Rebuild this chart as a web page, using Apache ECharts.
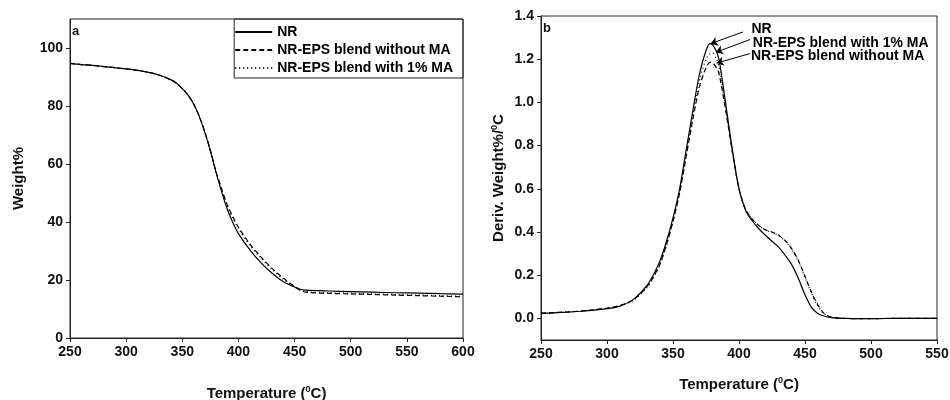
<!DOCTYPE html>
<html>
<head>
<meta charset="utf-8">
<script src="https://cdn.jsdelivr.net/npm/echarts@6/dist/echarts.min.js"></script>
<style>
  html, body { margin: 0; padding: 0; background: #fff; }
  #chart { width: 950px; height: 400px; }
</style>
</head>
<body>
<div id="chart"></div>
<script>
// ---- data ----
const seriesNames = ['NR', 'NR-EPS blend without MA', 'NR-EPS blend with 1% MA']

// (a) TGA: weight % vs temperature
const tgaTemp = [250, 260, 270, 280, 290, 300, 310, 320, 330, 340, 345, 350, 355, 360, 365, 370, 375, 380,
  385, 390, 395, 400, 410, 420, 430, 440, 450, 455, 460, 480, 500, 520, 540, 560, 580, 600]
const tgaNR = [94.7, 94.3, 94.0, 93.6, 93.2, 92.8, 92.3, 91.6, 90.6, 89.0, 87.8, 86.0, 83.8, 80.8, 76.5, 71.0, 64.5, 57.2,
  50.5, 44.5, 39.8, 36.0, 30.5, 26.0, 22.3, 19.4, 17.6, 16.8, 16.5, 16.2, 16.0, 15.8, 15.6, 15.5, 15.3, 15.1]
const tgaNoMA = [94.7, 94.3, 94.0, 93.6, 93.2, 92.8, 92.3, 91.6, 90.6, 89.0, 87.8, 86.0, 83.8, 80.8, 76.6, 71.2, 64.8, 57.5,
  51.5, 46.0, 41.8, 38.2, 32.5, 28.0, 24.0, 20.6, 17.8, 16.5, 15.8, 15.4, 15.2, 15.0, 14.8, 14.6, 14.4, 14.2]
const tgaMA = [94.7, 94.3, 94.0, 93.6, 93.2, 92.8, 92.3, 91.6, 90.6, 89.0, 87.8, 86.0, 83.8, 80.8, 76.6, 71.1, 64.7, 57.4,
  51.2, 45.6, 41.3, 37.8, 32.0, 27.6, 23.6, 20.3, 17.6, 16.6, 16.0, 15.6, 15.4, 15.2, 15.0, 14.8, 14.6, 14.4]

// (b) DTG: derivative weight %/°C vs temperature
const dtgTemp = [250, 260, 270, 280, 290, 300, 310, 320, 330, 335, 340, 345, 350, 355, 360, 365, 370, 375, 378, 380,
  383, 385, 390, 395, 400, 405, 410, 415, 420, 425, 430, 435, 440, 445, 450, 455, 460, 465, 470, 475,
  480, 490, 500, 520, 550]
const dtgNR = [0.023, 0.026, 0.029, 0.033, 0.038, 0.045, 0.057, 0.088, 0.15, 0.2, 0.265, 0.355, 0.465, 0.6, 0.78, 0.96, 1.13, 1.24, 1.272, 1.266,
  1.235, 1.195, 0.99, 0.78, 0.6, 0.5, 0.452, 0.415, 0.385, 0.357, 0.33, 0.292, 0.248, 0.185, 0.11, 0.05, 0.022, 0.01, 0.004, 0.001,
  0, -0.001, -0.001, 0, 0]
const dtgNoMA = [0.024, 0.027, 0.03, 0.034, 0.04, 0.048, 0.06, 0.086, 0.145, 0.19, 0.25, 0.34, 0.45, 0.58, 0.75, 0.92, 1.07, 1.16, 1.185, 1.183,
  1.16, 1.13, 0.96, 0.77, 0.6, 0.505, 0.46, 0.43, 0.41, 0.4, 0.385, 0.36, 0.322, 0.268, 0.195, 0.12, 0.06, 0.02, 0.006, 0.002,
  0, -0.001, -0.001, 0, 0]
const dtgMA = [0.023, 0.026, 0.03, 0.034, 0.039, 0.046, 0.058, 0.084, 0.14, 0.185, 0.245, 0.335, 0.45, 0.585, 0.76, 0.94, 1.1, 1.2, 1.225, 1.228,
  1.2, 1.16, 0.97, 0.77, 0.6, 0.505, 0.46, 0.43, 0.41, 0.398, 0.383, 0.358, 0.32, 0.265, 0.19, 0.115, 0.055, 0.018, 0.005, 0.001,
  0, -0.001, -0.001, 0, 0]

// peak annotations in panel b: label anchor -> arrow tip
const annoLabels = ['NR', 'NR-EPS blend with 1% MA', 'NR-EPS blend without MA']
const annoFrom = [[403.0, 1.326], [408.3, 1.291], [408.3, 1.226]]
const annoTo = [[378.5, 1.272], [382.5, 1.232], [383.0, 1.182]]

// ---- chart ----
const FONT = "'Liberation Sans', Arial, sans-serif"
const INK = '#111'
const frame = { color: '#222', width: 1 }
const dashTypes = ['solid', [5, 3], [1, 3]]

const pairs = (xs, ys) => xs.map((x, i) => [x, ys[i]])

const nameRich = {
  t: { fontSize: 15, fontWeight: 'bold', fontFamily: FONT, color: INK, lineHeight: 18 },
  s: { fontSize: 9, fontWeight: 'bold', fontFamily: FONT, color: INK, verticalAlign: 'top', lineHeight: 10 }
}
const tickLabel = { color: INK, fontSize: 14, fontWeight: 'bold', fontFamily: FONT, margin: 7 }

function xAxis(gridIndex, max, nameGap) {
  return {
    type: 'value', gridIndex, min: 250, max, interval: 50,
    name: '{t|Temperature (}{s|0}{t|C)}', nameLocation: 'middle', nameGap,
    nameTextStyle: { rich: nameRich },
    axisLine: { show: true, onZero: false, lineStyle: frame },
    axisTick: { show: true, length: 4, lineStyle: frame },
    axisLabel: tickLabel,
    splitLine: { show: false }
  }
}

function line(name, xIdx, xs, ys, k) {
  return {
    name, type: 'line', xAxisIndex: xIdx, yAxisIndex: xIdx,
    data: pairs(xs, ys), symbol: 'none', smooth: 0.3,
    lineStyle: { color: '#000', width: 1.2, type: dashTypes[k] },
    itemStyle: { color: '#000' },
    emphasis: { disabled: true }
  }
}

const chart = echarts.init(document.getElementById('chart'), null, { renderer: 'canvas' })

// label offsets along/against the arrow direction
const annoLabelPos = [
  { distance: [9, 8] },
  { distance: [3, -9] },
  { distance: [1, -9] }
]

const dtgSeries = [dtgNR, dtgNoMA, dtgMA].map((ys, k) => line(seriesNames[k], 1, dtgTemp, ys, k))
dtgSeries[0].markLine = {
  silent: true, animation: false,
  symbol: ['none', 'arrow'], symbolSize: 7,
  lineStyle: { color: '#000', width: 1, type: 'solid' },
  label: {
    show: true, position: 'start', formatter: '{b}',
    color: '#000', fontSize: 14, fontWeight: 'bold', fontFamily: FONT
  },
  emphasis: { disabled: true },
  data: annoLabels.map((name, i) => [
    { name, coord: annoFrom[i], label: annoLabelPos[i] },
    { coord: annoTo[i] }
  ])
}

chart.setOption({
  animation: false,
  backgroundColor: '#fff',
  title: [
    { text: 'a', left: 72, top: 25, padding: 0, textStyle: { fontSize: 13, fontWeight: 'bold', fontFamily: FONT, color: INK } },
    { text: 'b', left: 543, top: 22, padding: 0, textStyle: { fontSize: 13, fontWeight: 'bold', fontFamily: FONT, color: INK } }
  ],
  legend: {
    data: seriesNames, orient: 'vertical', right: 487, top: 19,
    itemWidth: 37, itemHeight: 14, itemGap: 4, itemTextGap: 5,
    padding: [6, 10, 3, 0], borderColor: '#222', borderWidth: 1,
    selectedMode: false,
    itemStyle: { color: 'transparent', borderColor: 'transparent', borderWidth: 0 },
    textStyle: { color: '#000', fontSize: 14, fontWeight: 'bold', fontFamily: FONT }
  },
  grid: [
    { left: 70, right: 487, top: 19, bottom: 62, outerBoundsMode: 'none', show: true, borderColor: '#222', borderWidth: 1 },
    { left: 541, right: 13, top: 16, bottom: 60, outerBoundsMode: 'none', show: true, borderColor: '#222', borderWidth: 1 }
  ],
  xAxis: [xAxis(0, 600, 47), xAxis(1, 550, 36)],
  yAxis: [
    {
      type: 'value', gridIndex: 0, min: 0, max: 110, interval: 20,
      name: 'Weight%', nameLocation: 'middle', nameGap: 44,
      nameTextStyle: { fontSize: 15, fontWeight: 'bold', fontFamily: FONT, color: INK },
      axisLine: { show: true, lineStyle: frame },
      axisTick: { show: true, length: 4, lineStyle: frame },
      axisLabel: Object.assign({ showMaxLabel: false }, tickLabel),
      splitLine: { show: false }
    },
    {
      type: 'value', gridIndex: 1, min: -0.1, max: 1.4, splitNumber: 7,
      name: '{t|Deriv. Weight%/}{s|0}{t|C}', nameLocation: 'middle', nameGap: 33,
      nameTextStyle: { rich: nameRich },
      axisLine: { show: true, lineStyle: frame },
      axisTick: { show: true, length: 4, lineStyle: frame },
      axisLabel: Object.assign({ showMinLabel: false, formatter: v => v.toFixed(1) }, tickLabel),
      splitLine: { show: false }
    }
  ],
  series: [
    ...[tgaNR, tgaNoMA, tgaMA].map((ys, k) => line(seriesNames[k], 0, tgaTemp, ys, k)),
    ...dtgSeries
  ]
})
</script>
</body>
</html>
